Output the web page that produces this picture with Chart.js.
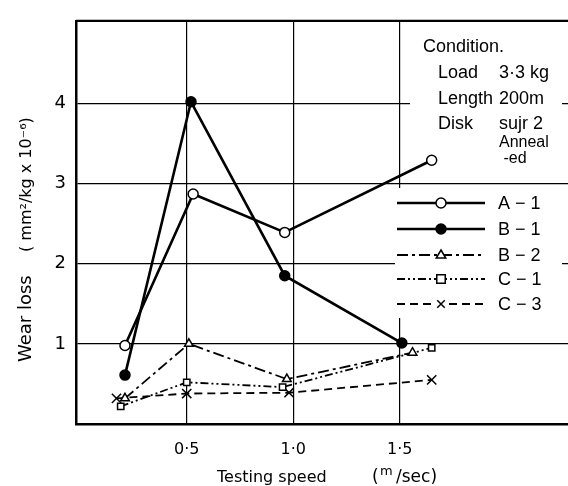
<!DOCTYPE html>
<html lang="en">
<head>
  <meta charset="UTF-8">
  <title>Wear loss vs testing speed</title>
  <script src="https://cdn.jsdelivr.net/npm/chart.js"></script>
  <style>
    html, body { margin: 0; padding: 0; background: #fff; }
    #wrap { width: 568px; height: 486px; }
  </style>
</head>
<body>
  <div id="wrap"><canvas id="grafico" width="568" height="486"></canvas></div>

  <script>
    // series names (legend order)
    const seriesNames = ["A \u2212 1", "B \u2212 1", "B \u2212 2", "C \u2212 1", "C \u2212 3"];

    // testing speed (m/sec) of each point, per series
    const speedA1 = [0.21, 0.53, 0.96, 1.65];
    const speedB1 = [0.21, 0.52, 0.96, 1.51];
    const speedB2 = [0.21, 0.51, 0.97, 1.56];
    const speedC1 = [0.19, 0.50, 0.95, 1.65];
    const speedC3 = [0.17, 0.50, 0.98, 1.65];

    // wear loss (mm2/kg x 10^-6)
    const wearA1 = [0.98, 2.87, 2.39, 3.29];
    const wearB1 = [0.61, 4.02, 1.85, 1.01];
    const wearB2 = [0.32, 1.00, 0.56, 0.89];
    const wearC1 = [0.22, 0.52, 0.46, 0.95];
    const wearC3 = [0.32, 0.38, 0.39, 0.55];

    // tick labels
    const xTicks = [0.5, 1.0, 1.5];
    const xTickLabels = ["0\u00b75", "1\u00b70", "1\u00b75"];
    const yTicks = [1, 2, 3, 4];

    // condition box text
    const condTitle = "Condition.";
    const condRows = [["Load", "3\u00b73 kg"], ["Length", "200m"], ["Disk", "sujr 2"], ["", "Anneal"], ["", " -ed"]];

    const FONT = "'DejaVu Sans', sans-serif";
    const FONT2 = "'Liberation Sans', Arial, sans-serif";

    function puntos(xs, ys) {
      return xs.map((x, i) => ({ x: x, y: ys[i] }));
    }

    const estilos = [
      { style: "circle", fill: "#fff", dash: [], width: 2.6, r: 5 },
      { style: "circle", fill: "#000", dash: [], width: 2.6, r: 5 },
      { style: "triangle", fill: "#fff", dash: [11, 4, 3, 4], width: 1.8, r: 5 },
      { style: "rect", fill: "#fff", dash: [8, 3, 2, 3, 2, 3], width: 1.8, r: 4.5 },
      { style: "crossRot", fill: "#fff", dash: [8, 5], width: 1.8, r: 6.5 }
    ];
    const datos = [
      puntos(speedA1, wearA1),
      puntos(speedB1, wearB1),
      puntos(speedB2, wearB2),
      puntos(speedC1, wearC1),
      puntos(speedC3, wearC3)
    ];

    const datasets = datos.map((d, i) => ({
      label: seriesNames[i],
      data: d,
      borderColor: "#000",
      borderWidth: estilos[i].width,
      borderDash: estilos[i].dash,
      pointStyle: estilos[i].style,
      pointRadius: estilos[i].r,
      pointBorderWidth: 1.5,
      pointBorderColor: "#000",
      pointBackgroundColor: estilos[i].fill,
      tension: 0,
      fill: false
    }));

    function marcador(ctx, style, x, y, r, fill) {
      ctx.save();
      ctx.setLineDash([]);
      ctx.lineWidth = 1.5;
      ctx.strokeStyle = "#000";
      ctx.fillStyle = fill;
      ctx.beginPath();
      if (style === "circle") {
        ctx.arc(x, y, r, 0, Math.PI * 2);
        ctx.fill(); ctx.stroke();
      } else if (style === "triangle") {
        ctx.moveTo(x, y - r);
        ctx.lineTo(x + r * 0.95, y + r * 0.6);
        ctx.lineTo(x - r * 0.95, y + r * 0.6);
        ctx.closePath();
        ctx.fill(); ctx.stroke();
      } else if (style === "rect") {
        ctx.rect(x - r * 0.85, y - r * 0.85, r * 1.7, r * 1.7);
        ctx.fill(); ctx.stroke();
      } else {
        ctx.fillStyle = "#fff";
        ctx.fillRect(x - r - 1, y - r - 1, 2 * r + 2, 2 * r + 2);
        ctx.beginPath();
        ctx.moveTo(x - r * 0.75, y - r * 0.75); ctx.lineTo(x + r * 0.75, y + r * 0.75);
        ctx.moveTo(x + r * 0.75, y - r * 0.75); ctx.lineTo(x - r * 0.75, y + r * 0.75);
        ctx.stroke();
      }
      ctx.restore();
    }

    // boxes, legend, condition text and axis titles
    const extras = {
      id: "extras",
      beforeDatasetsDraw(chart) {
        const ctx = chart.ctx;
        const area = chart.chartArea;
        ctx.save();
        ctx.fillStyle = "#fff";
        ctx.fillRect(410, 26, 152, 146);   // condition box
        ctx.fillRect(395, 188, 167, 130);  // legend box

        // top frame line
        ctx.strokeStyle = "#000";
        ctx.lineWidth = 2.2;
        ctx.beginPath();
        ctx.moveTo(area.left, area.top);
        ctx.lineTo(area.right, area.top);
        ctx.stroke();

        ctx.fillStyle = "#000";
        ctx.font = "18px " + FONT2;
        ctx.textBaseline = "alphabetic";
        ctx.textAlign = "left";
        ctx.fillText(condTitle, 423, 52);
        const rowY = [78, 104, 129, 147, 163];
        condRows.forEach((r, i) => {
          ctx.font = (i >= 3 ? "16px " : "18px ") + FONT2;
          if (r[0]) ctx.fillText(r[0], 438, rowY[i]);
          ctx.fillText(r[1], 499, rowY[i]);
        });

        // legend
        const legY = [203, 229, 255, 279, 304];
        chart.data.datasets.forEach((ds, i) => {
          const y = legY[i];
          ctx.save();
          ctx.strokeStyle = "#000";
          ctx.lineWidth = ds.borderWidth;
          ctx.setLineDash(ds.borderDash);
          ctx.beginPath();
          ctx.moveTo(397, y);
          ctx.lineTo(485, y);
          ctx.stroke();
          ctx.restore();
          marcador(ctx, ds.pointStyle, 441, y, 5, ds.pointBackgroundColor);
          ctx.fillStyle = "#000";
          ctx.font = "18px " + FONT2;
          ctx.textBaseline = "middle";
          ctx.fillText(ds.label, 498, y + 1);
        });
        ctx.restore();
      },
      afterDraw(chart) {
        const ctx = chart.ctx;
        ctx.save();
        ctx.fillStyle = "#000";
        ctx.textBaseline = "alphabetic";
        ctx.textAlign = "left";
        // x title
        ctx.font = "16px " + FONT;
        ctx.fillText("Testing speed", 217, 482);
        ctx.font = "17px " + FONT;
        ctx.fillText("(", 372, 482);
        ctx.font = "13px " + FONT;
        ctx.fillText("m", 380, 475);
        ctx.font = "17px " + FONT;
        ctx.fillText("/sec)", 396, 482);
        // y title
        ctx.translate(31, 362);
        ctx.rotate(-Math.PI / 2);
        ctx.font = "18px " + FONT;
        ctx.fillText("Wear loss", 0, 0);
        ctx.font = "16px " + FONT;
        ctx.fillText("( mm\u00b2/kg x 10\u207b\u2076)", 110, 0);
        ctx.restore();
      }
    };

    const gridX = (c) => (c.tick && xTicks.indexOf(c.tick.value) >= 0) ? "#000" : "rgba(0,0,0,0)";
    const gridY = (c) => (c.tick && yTicks.indexOf(c.tick.value) >= 0) ? "#000" : "rgba(0,0,0,0)";

    const chart = new Chart(document.getElementById("grafico").getContext("2d"), {
      type: "line",
      data: { datasets: datasets },
      plugins: [extras],
      options: {
        responsive: false,
        animation: false,
        layout: { autoPadding: false, padding: { top: 12, right: 0, left: 0, bottom: 0 } },
        plugins: { legend: { display: false }, tooltip: { enabled: false } },
        scales: {
          x: {
            type: "linear",
            min: -0.02,
            max: 2.29,
            afterBuildTicks: (axis) => { axis.ticks = xTicks.map(v => ({ value: v })); },
            afterFit: (axis) => { axis.height = 62; },
            ticks: {
              color: "#000",
              padding: 16,
              font: { family: FONT, size: 16 },
              callback: (v) => { const k = xTicks.indexOf(v); return k >= 0 ? xTickLabels[k] : ""; }
            },
            grid: { color: gridX, lineWidth: 1.2, drawTicks: false },
            border: { color: "#000", width: 2.5 }
          },
          y: {
            type: "linear",
            min: 0,
            max: 5.03,
            afterBuildTicks: (axis) => { axis.ticks = yTicks.map(v => ({ value: v })); },
            afterFit: (axis) => { axis.width = 76; },
            ticks: {
              color: "#000",
              padding: 10,
              font: { family: FONT, size: 18 },
              callback: (v) => yTicks.indexOf(v) >= 0 ? String(v) : ""
            },
            grid: { color: gridY, lineWidth: 1.2, drawTicks: false },
            border: { color: "#000", width: 2.5 }
          }
        }
      }
    });
  </script>
</body>
</html>
